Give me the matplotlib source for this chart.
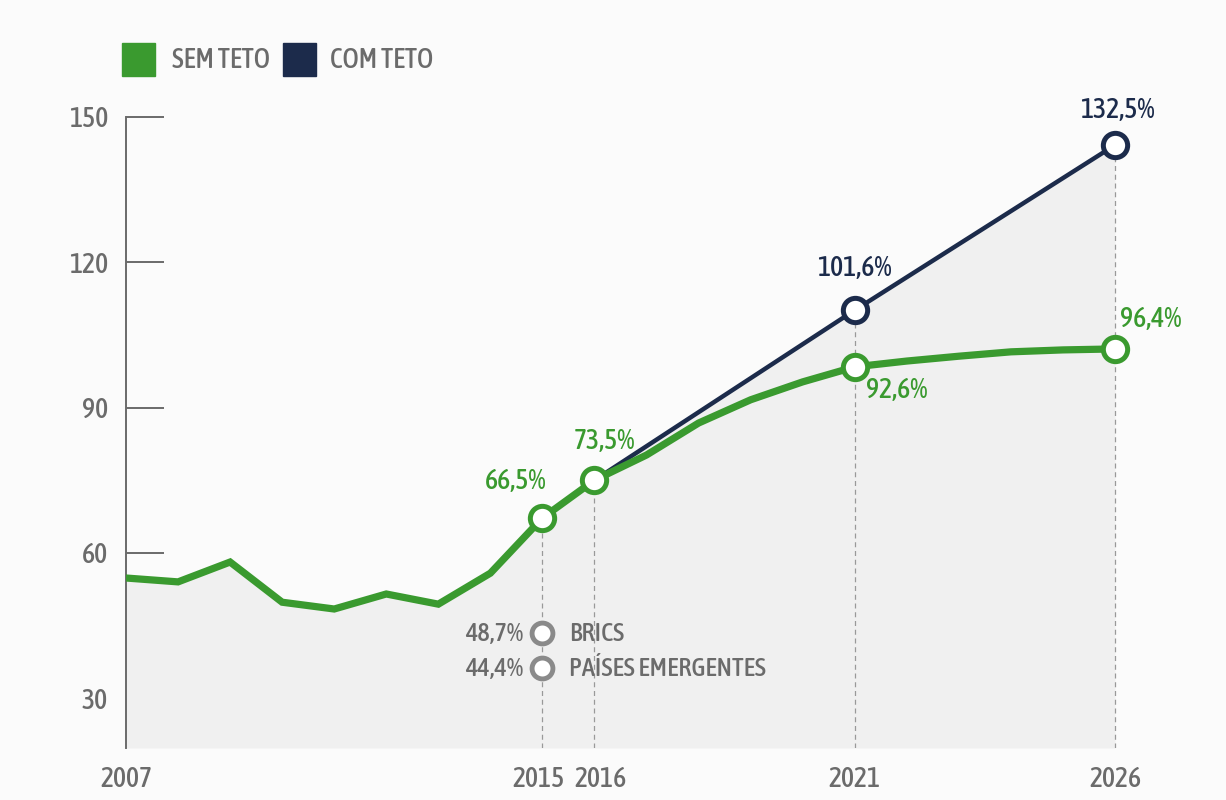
import matplotlib
matplotlib.use("Agg")
import matplotlib.pyplot as plt
import matplotlib.font_manager as fm
from matplotlib.patches import Rectangle
from matplotlib.transforms import ScaledTranslation

# pick a narrow face if one is installed
cands = [f for f in fm.fontManager.ttflist
         if 'Narrow' in f.name or 'Condensed' in f.name
         or str(f.stretch) in ('condensed', 'semi-condensed', 'extra-condensed', '500', '300')
         or (isinstance(f.stretch, int) and f.stretch < 500)]
cands.sort(key=lambda f: (f.style != 'normal', abs((f.weight if isinstance(f.weight, int) else 400) - 500)))
fs = 20
if cands:
    FONT = cands[0].fname
else:
    FONT = None


def fp(size):
    if FONT:
        return fm.FontProperties(fname=FONT, size=size)
    return fm.FontProperties(family='DejaVu Sans', stretch='condensed', size=size - 4)


# debt / GDP style series (axis units)
years_hist = [2007, 2008, 2009, 2010, 2011, 2012, 2013, 2014, 2015, 2016]
sem_hist = [54.8, 54.0, 58.1, 49.8, 48.4, 51.5, 49.4, 55.8, 67.2, 75.0]

# projection without the cap (curved line)
years_sem = [2016, 2017, 2018, 2019, 2020, 2021, 2022, 2023, 2024, 2025, 2026]
sem_proj = [75.0, 80.2, 86.8, 91.6, 95.3, 98.4, 99.6, 100.6, 101.5, 101.9, 102.1]

# projection with the cap
years_com = [2016, 2021, 2026]
com_proj = [75.0, 110.1, 144.2]

# highlighted points and their labels
sem_mark_years = [2015, 2016, 2021, 2026]
sem_mark_vals = [67.2, 75.0, 98.4, 102.1]
sem_mark_text = ['66,5%', '73,5%', '92,6%', '96,4%']
com_mark_years = [2021, 2026]
com_mark_vals = [110.1, 144.2]
com_mark_text = ['101,6%', '132,5%']

# comparison points in 2015
cmp_vals = [43.4, 36.2]
cmp_pct = ['48,7%', '44,4%']
cmp_names = ['BRICS', 'PAÍSES EMERGENTES']

yticks = [30, 60, 90, 120, 150]
xticks = [2007, 2015, 2016, 2021, 2026]

GREEN = '#3a9a2f'
NAVY = '#1c2b4b'
GRAY = '#6b6b6b'
FILL = '#f0f0f0'

fig = plt.figure(figsize=(12.26, 8), dpi=100, facecolor='#fbfbfb')
ax = fig.add_axes([126/1226, 52/800, 1064/1226, 648/800])
ax.set_facecolor('none')
ylo, yhi = 19.7, 153.5
ax.set_xlim(2007, 2027.44)
ax.set_ylim(ylo, yhi)

# grey area under the top line
fx = years_hist + years_com[1:]
fy = sem_hist + com_proj[1:]
ax.fill_between(fx, fy, ylo, color=FILL, zorder=1, lw=0)

# dashed drop lines
for yr, v in zip(sem_mark_years, sem_mark_vals):
    top = v
    if yr in com_mark_years:
        top = com_mark_vals[com_mark_years.index(yr)]
    ax.plot([yr, yr], [ylo, top], color='#999999', lw=0.9, ls=(0, (4, 3)), zorder=2)

ax.plot(years_com, com_proj, color=NAVY, lw=3.2, zorder=3, solid_capstyle='round')
ax.plot(years_hist, sem_hist, color=GREEN, lw=5.2, zorder=4, solid_joinstyle='miter')
ax.plot(years_sem, sem_proj, color=GREEN, lw=5.2, zorder=4, solid_capstyle='round')

ax.plot(sem_mark_years, sem_mark_vals, ls='none', marker='o', ms=17.5, mfc='white',
        mec=GREEN, mew=3.6, zorder=6)
ax.plot(com_mark_years, com_mark_vals, ls='none', marker='o', ms=17.5, mfc='white',
        mec=NAVY, mew=3.6, zorder=6)
ax.plot([2015, 2015], cmp_vals, ls='none', marker='o', ms=15, mfc='white',
        mec='#8a8a8a', mew=3.5, zorder=6)

sem_offsets = [(-19, 26), (7, 28), (30, -17), (26, 21)]
for yr, v, t, off in zip(sem_mark_years, sem_mark_vals, sem_mark_text, sem_offsets):
    ax.annotate(t, (yr, v), xytext=off, textcoords='offset points', ha='center',
                va='center', color=GREEN, zorder=7, fontproperties=fp(fs))
com_offsets = [(0, 30), (2, 25)]
for yr, v, t, off in zip(com_mark_years, com_mark_vals, com_mark_text, com_offsets):
    ax.annotate(t, (yr, v), xytext=off, textcoords='offset points', ha='center',
                va='center', color=NAVY, zorder=7, fontproperties=fp(fs))
for v, p, n in zip(cmp_vals, cmp_pct, cmp_names):
    ax.annotate(p, (2015, v), xytext=(-14, 0), textcoords='offset points', ha='right',
                va='center', color=GRAY, fontproperties=fp(fs - 1))
    ax.annotate(n, (2015, v), xytext=(19, 0), textcoords='offset points', ha='left',
                va='center', color=GRAY, fontproperties=fp(fs - 1))

# axes
for s in ['top', 'right', 'bottom']:
    ax.spines[s].set_visible(False)
ax.spines['left'].set_color(GRAY)
ax.spines['left'].set_linewidth(1.4)
ax.spines['left'].set_bounds(ylo, 150)
ax.set_yticks(yticks)
ax.set_yticklabels([str(t) for t in yticks], color=GRAY, fontproperties=fp(fs))
ax.tick_params(axis='y', direction='in', length=27, width=1.4, color=GRAY, pad=13)
ax.yaxis.get_major_ticks()[0].tick1line.set_visible(False)
ax.set_xticks(xticks)
ax.set_xticklabels([str(t) for t in xticks], color=GRAY, fontproperties=fp(fs))
ax.tick_params(axis='x', length=0, pad=13)
# nudge the two close year labels apart
xl = ax.get_xticklabels()
xl[1].set_transform(xl[1].get_transform() + ScaledTranslation(-3/72, 0, fig.dpi_scale_trans))
xl[2].set_transform(xl[2].get_transform() + ScaledTranslation(4/72, 0, fig.dpi_scale_trans))

# legend
fig.patches.append(Rectangle((122/1226, 1 - 76/800), 33/1226, 33/800,
                             transform=fig.transFigure, color=GREEN))
fig.text(172/1226, 1 - 60/800, 'SEM TETO', color=GRAY, va='center', fontproperties=fp(fs))
fig.patches.append(Rectangle((283/1226, 1 - 76/800), 33/1226, 33/800,
                             transform=fig.transFigure, color=NAVY))
fig.text(330/1226, 1 - 60/800, 'COM TETO', color=GRAY, va='center', fontproperties=fp(fs))

fig.savefig('out.png', dpi=100, facecolor=fig.get_facecolor())
